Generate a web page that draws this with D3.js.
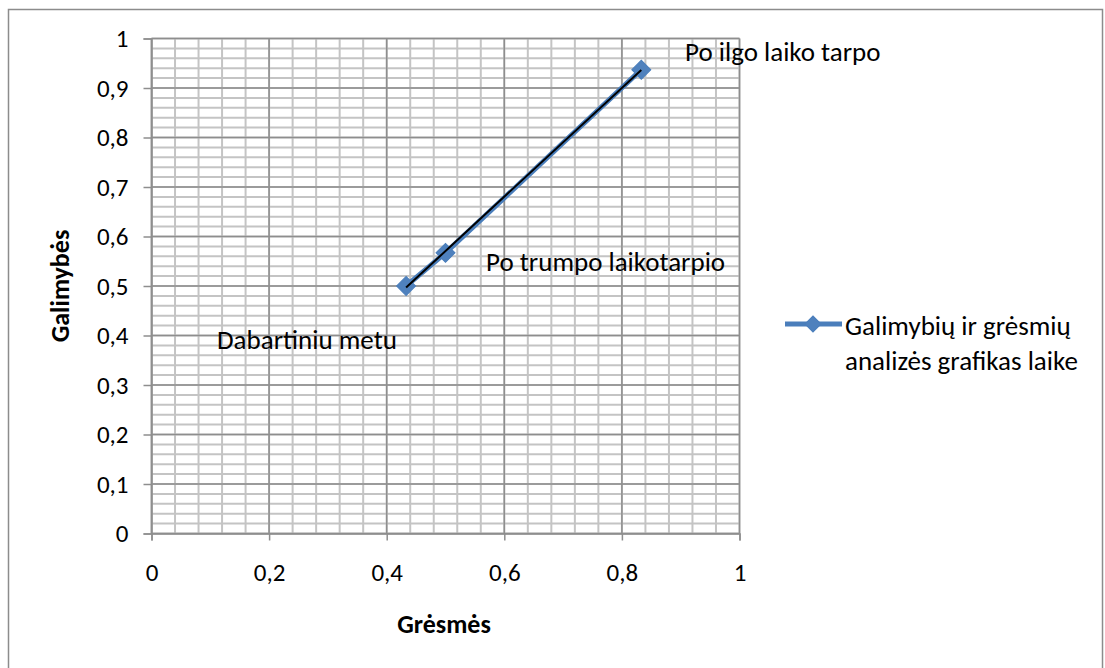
<!DOCTYPE html>
<html><head><meta charset="utf-8">
<script src="https://cdn.jsdelivr.net/npm/d3@7"></script>
<style>body{margin:0;background:#fff}svg{display:block}</style>
</head><body>
<script>
const xValues = [0.433, 0.5, 0.833];
const yValues = [0.5, 0.567, 0.937];
const pointLabels = ["Dabartiniu metu", "Po trumpo laikotarpio", "Po ilgo laiko tarpo"];
const xTicks = [0, 0.2, 0.4, 0.6, 0.8, 1];
const yTicks = [0, 0.1, 0.2, 0.3, 0.4, 0.5, 0.6, 0.7, 0.8, 0.9, 1];
const seriesName = ["Galimybių ir grėsmių", "analizės grafikas laike"];

const W = 1105, H = 668;
const font = "Carlito, Calibri, Lato, 'Open Sans', sans-serif";
const FS = 25, LFS = 27;
const svg = d3.select("body").append("svg").attr("width", W).attr("height", H);
svg.append("rect").attr("x", 8.5).attr("y", 9.5).attr("width", 1094).attr("height", 700)
  .attr("fill", "#fff").attr("stroke", "#8c8c8c").attr("stroke-width", 1.5);

const x = d3.scaleLinear().domain([0, 1]).range([151.5, 739.5]);
const y = d3.scaleLinear().domain([0, 1]).range([533.5, 38.5]);
const fmt = d => d3.format(".1~f")(d).replace(".", ",");

const g = svg.append("g");
const xMinor = d3.range(0, 1.0001, 0.04);
const yMinor = d3.range(0, 1.0001, 0.02);
g.selectAll(".vm").data(xMinor).join("line")
  .attr("x1", d => x(d)).attr("x2", d => x(d)).attr("y1", y(0)).attr("y2", y(1))
  .attr("stroke", "#c4c4c4").attr("stroke-width", 2);
g.selectAll(".hm").data(yMinor).join("line")
  .attr("x1", x(0)).attr("x2", x(1)).attr("y1", d => y(d)).attr("y2", d => y(d))
  .attr("stroke", "#c4c4c4").attr("stroke-width", 2);
g.selectAll(".vM").data(xTicks).join("line")
  .attr("x1", d => x(d)).attr("x2", d => x(d)).attr("y1", y(0)).attr("y2", y(1))
  .attr("stroke", "#8e8e8e").attr("stroke-width", 1.5);
g.selectAll(".hM").data(yTicks).join("line")
  .attr("x1", x(0)).attr("x2", x(1)).attr("y1", d => y(d)).attr("y2", d => y(d))
  .attr("stroke", "#8e8e8e").attr("stroke-width", 1.5);

const yAxis = svg.append("g").attr("transform", `translate(${x(0)},0)`)
  .call(d3.axisLeft(y).tickValues(yTicks).tickFormat(fmt).tickSize(8).tickPadding(15));
const xAxis = svg.append("g").attr("transform", `translate(0,${y(0)})`)
  .call(d3.axisBottom(x).tickValues(xTicks).tickFormat(fmt).tickSize(7).tickPadding(23));
[yAxis, xAxis].forEach(a => {
  a.attr("font-size", null).attr("font-family", null);
  a.select(".domain").attr("stroke", "#8e8e8e").attr("stroke-width", 1.5);
  a.selectAll(".tick line").attr("stroke", "#8e8e8e").attr("stroke-width", 1.5);
  a.selectAll("text").attr("font-family", font).attr("font-size", FS).attr("fill", "#000");
});

const data = xValues.map((v, i) => ({x: v, y: yValues[i], label: pointLabels[i]}));

svg.append("path").datum(data)
  .attr("d", d3.line().x(d => x(d.x)).y(d => y(d.y)))
  .attr("fill", "none").attr("stroke", "#4a7ebb").attr("stroke-width", 5);

const mx = d3.mean(data, d => d.x), my = d3.mean(data, d => d.y);
const slope = d3.sum(data, d => (d.x - mx) * (d.y - my)) / d3.sum(data, d => (d.x - mx) ** 2);
const icpt = my - slope * mx;
const [x0, x1] = d3.extent(xValues);

svg.selectAll(".mk").data(data).join("path")
  .attr("transform", d => `translate(${x(d.x)},${y(d.y)}) rotate(45)`)
  .attr("d", d3.symbol().type(d3.symbolSquare).size(180))
  .attr("fill", "#4f81bd").attr("stroke", "#4a7ebb").attr("stroke-width", 1);
svg.append("line").attr("x1", x(x0)).attr("y1", y(icpt + slope * x0))
  .attr("x2", x(x1)).attr("y2", y(icpt + slope * x1))
  .attr("stroke", "#000").attr("stroke-width", 2);

const labelPos = [[217, 340], [486, 262], [685, 52]];
svg.selectAll(".pl").data(data).join("text")
  .attr("x", (d, i) => labelPos[i][0]).attr("y", (d, i) => labelPos[i][1])
  .attr("dy", "0.35em")
  .attr("font-family", font).attr("font-size", LFS).attr("fill", "#000")
  .text(d => d.label);

svg.append("text").attr("transform", "translate(60,286) rotate(-90)")
  .attr("text-anchor", "middle").attr("dy", "0.35em")
  .attr("font-family", font).attr("font-size", FS + 1).attr("font-weight", "bold").text("Galimybės");
svg.append("text").attr("x", 444).attr("y", 624).attr("text-anchor", "middle").attr("dy", "0.35em")
  .attr("font-family", font).attr("font-size", FS + 1).attr("font-weight", "bold").text("Grėsmės");

const lg = svg.append("g");
lg.append("line").attr("x1", 785).attr("x2", 842).attr("y1", 324).attr("y2", 324)
  .attr("stroke", "#4a7ebb").attr("stroke-width", 5);
lg.append("path").attr("transform", "translate(813,324) rotate(45)")
  .attr("d", d3.symbol().type(d3.symbolSquare).size(130))
  .attr("fill", "#4f81bd").attr("stroke", "#4a7ebb");
lg.selectAll("text").data(seriesName).join("text")
  .attr("x", 845).attr("y", (d, i) => 326 + i * 35).attr("dy", "0.35em")
  .attr("font-family", font).attr("font-size", LFS).attr("fill", "#000").text(d => d);
</script>
</body></html>
